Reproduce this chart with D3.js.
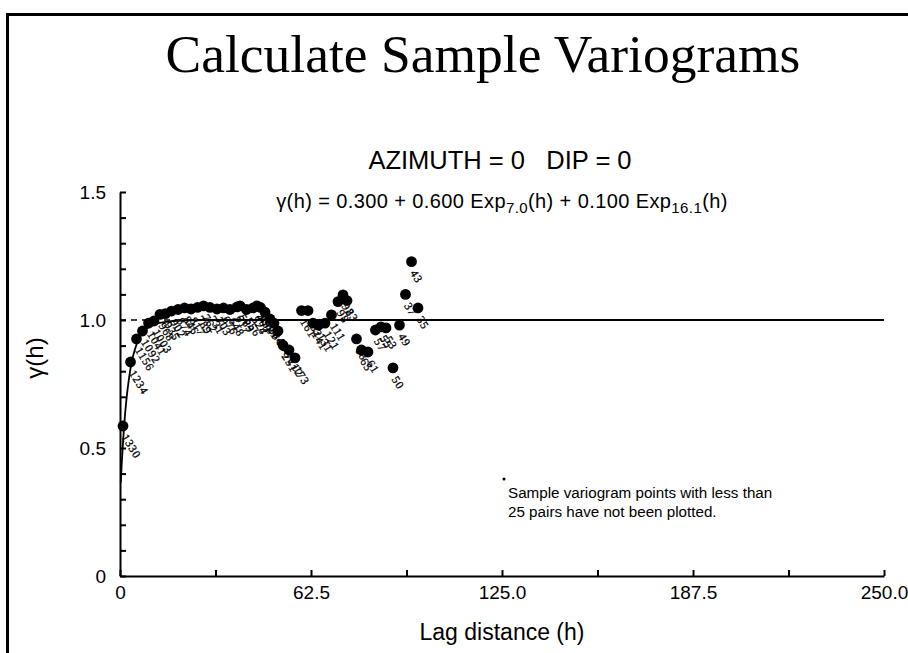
<!DOCTYPE html>
<html><head><meta charset="utf-8">
<script src="https://cdn.jsdelivr.net/npm/d3@7"></script>
<style>body{margin:0;background:#fff}svg{display:block}</style>
</head><body><svg id="c" width="908" height="653"></svg>
<script>
// ---- data ----
const lagDistance = [0.98,3.44,5.40,7.36,9.33,11.12,13.09,14.89,16.85,18.98,21.11,23.23,25.36,27.32,29.45,31.74,33.87,35.99,38.28,39.27,41.39,43.52,44.83,45.97,47.45,49.08,50.39,51.70,53.34,55.30,57.26,59.40,61.52,63.15,64.95,67.08,69.20,71.34,72.97,74.28,77.39,79.02,81.15,83.58,85.41,87.04,89.33,91.46,93.42,95.39,97.51];
const gammaValues = [0.586,0.836,0.926,0.957,0.988,0.996,1.022,1.025,1.035,1.041,1.047,1.043,1.049,1.055,1.049,1.043,1.047,1.041,1.051,1.055,1.041,1.047,1.055,1.049,1.031,1.004,0.988,0.957,0.902,0.883,0.852,1.037,1.037,0.988,0.980,0.988,1.020,1.072,1.098,1.076,0.926,0.883,0.875,0.961,0.973,0.969,0.813,0.980,1.100,1.228,1.047];
const pairCounts = [1330,1234,1156,1092,1041,1003,968,935,902,874,846,817,789,762,731,703,676,648,617,589,556,524,493,458,421,384,342,298,251,212,173,161,152,141,131,121,111,98,92,83,68,65,61,57,55,53,50,49,37,43,35];
const curveLag = [0.25,0.5,1,1.5,2,3,4,5,6,8,10,12,15,20,25,30,40,60,250];
const curveGamma = [0.365,0.425,0.526,0.609,0.677,0.777,0.845,0.890,0.921,0.958,0.976,0.986,0.993,0.998,0.999,1.0,1.0,1.0,1.0];
const sillValue = 1.0;
const xMajorTicks = [0,62.5,125,187.5,250];
const xTickLabels = ["0","62.5","125.0","187.5","250.0"];
const yMajorTicks = [0,0.5,1.0,1.5];
const yTickLabels = ["0","0.5","1.0","1.5"];
const titleText = "Calculate Sample Variograms";
const headerText = "AZIMUTH = 0   DIP = 0";
const xTitle = "Lag distance (h)";
const yTitle = "\u03b3(h)";
const noteLines = ["Sample variogram points with less than","25 pairs have not been plotted."];

// ---- drawing ----
const svg = d3.select("#c");
const SANS = "'Liberation Sans', Arial, sans-serif";
const SERIF = "'Liberation Serif', 'Times New Roman', serif";

// frame
svg.append("path").attr("d","M7.5,653 L7.5,14.5 L908,14.5").attr("fill","none").attr("stroke","#000").attr("stroke-width",3);

svg.append("text").attr("x",483).attr("y",72).attr("text-anchor","middle")
  .attr("font-family",SERIF).attr("font-size",53.5).text(titleText);
svg.append("text").attr("x",500).attr("y",169).attr("text-anchor","middle")
  .attr("font-family",SANS).attr("font-size",25.5).style("white-space","pre").text(headerText);

const f = svg.append("text").attr("x",502).attr("y",208).attr("text-anchor","middle")
  .attr("font-family",SANS).attr("font-size",20).attr("letter-spacing",0.4);
f.append("tspan").text("\u03b3(h) = 0.300 + 0.600 Exp");
f.append("tspan").attr("font-size",15).attr("dy",5).text("7.0");
f.append("tspan").attr("dy",-5).text("(h) + 0.100 Exp");
f.append("tspan").attr("font-size",15).attr("dy",5).text("16.1");
f.append("tspan").attr("dy",-5).text("(h)");

const x = d3.scaleLinear().domain([0,250]).range([120,884]);
const y = d3.scaleLinear().domain([0,1.5]).range([576,192]);

// axes
const xAxis = d3.axisBottom(x).tickValues(d3.range(0,250.001,31.25)).tickSizeInner(-6).tickSizeOuter(0).tickPadding(10)
  .tickFormat(d => { const i = xMajorTicks.indexOf(d); return i>=0 ? xTickLabels[i] : ""; });
const gx = svg.append("g").attr("transform","translate(0,576)").call(xAxis);
const yAxis = d3.axisLeft(y).tickValues(d3.range(0,1.5001,0.1).map(v=>+v.toFixed(1))).tickSizeInner(-6).tickSizeOuter(0).tickPadding(14)
  .tickFormat(d => { const i = yMajorTicks.findIndex(m=>Math.abs(m-d)<1e-6); return i>=0 ? yTickLabels[i] : ""; });
const gy = svg.append("g").attr("transform","translate(120,0)").call(yAxis);
[gx,gy].forEach(g=>{
  g.select(".domain").attr("stroke","#000").attr("stroke-width",2);
  g.selectAll(".tick line").attr("stroke","#000").attr("stroke-width",2);
  g.selectAll(".tick text").attr("font-family",SANS).attr("font-size",19).attr("fill","#000");
});
gy.selectAll(".tick text").attr("dy","0.35em");

svg.append("text").attr("x",502).attr("y",640).attr("text-anchor","middle")
  .attr("font-family",SANS).attr("font-size",23).text(xTitle);
svg.append("text").attr("transform","translate(43,358) rotate(-90)").attr("text-anchor","middle")
  .attr("font-family",SANS).attr("font-size",24).text(yTitle);

// sill line (dashed)
svg.append("line").attr("x1",x(0)).attr("x2",x(250)).attr("y1",y(sillValue)).attr("y2",y(sillValue))
  .attr("stroke","#000").attr("stroke-width",1.6).attr("stroke-dasharray","6,5");

// model curve
const line = d3.line().x((d,i)=>x(curveLag[i])).y((d,i)=>y(curveGamma[i])).curve(d3.curveMonotoneX);
svg.append("path").datum(curveLag).attr("d",line).attr("fill","none").attr("stroke","#000").attr("stroke-width",1.8);

// pair labels
svg.append("g").selectAll("text").data(pairCounts).join("text")
  .attr("transform",(d,i)=>`translate(${x(lagDistance[i])+5},${y(gammaValues[i])+7}) rotate(58)`)
  .attr("font-family",SERIF).attr("font-size",11.5).attr("letter-spacing",0.8).attr("dy","0.7em")
  .attr("stroke","#000").attr("stroke-width",0.3).text(d=>d);

// points
svg.append("g").selectAll("circle").data(lagDistance).join("circle")
  .attr("cx",d=>x(d)).attr("cy",(d,i)=>y(gammaValues[i])).attr("r",5.4).attr("fill","#000");

// note
svg.append("circle").attr("cx",504).attr("cy",479).attr("r",1.5).attr("fill","#000");
svg.append("g").selectAll("text").data(noteLines).join("text")
  .attr("x",508).attr("y",(d,i)=>498+i*19).attr("font-family",SANS).attr("font-size",15.2).text(d=>d);
</script></body></html>
